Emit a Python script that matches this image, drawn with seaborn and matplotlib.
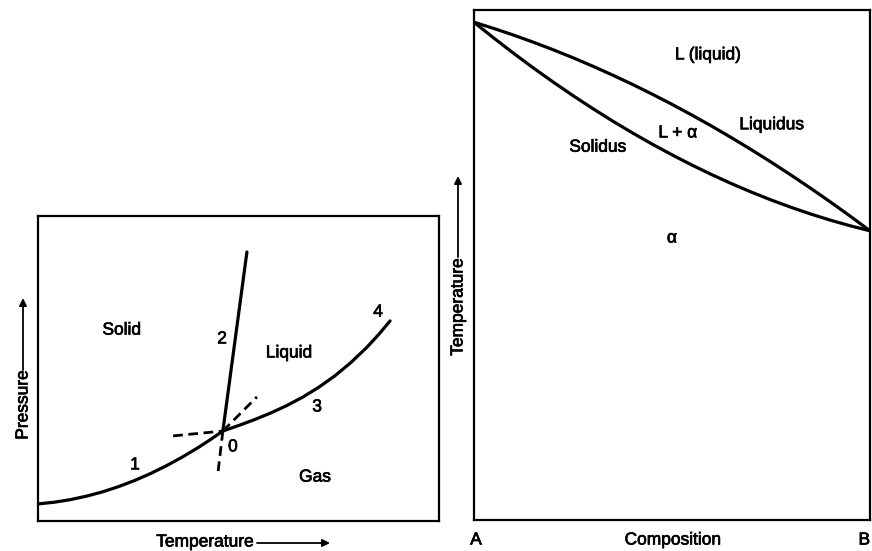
import matplotlib
matplotlib.use("Agg")
import matplotlib.pyplot as plt
import matplotlib.patheffects as pe
import seaborn as sns
import pandas as pd

# --- One-component system: pressure vs temperature (arbitrary units, 0-100) ---
sublimation_T = [0, 4, 8, 12, 16, 20, 24, 28, 32, 36, 40, 43, 46.1]
sublimation_P = [5.6, 6.15, 6.98, 8.11, 9.52, 11.23, 13.23, 15.52, 18.1, 20.97,
                 24.13, 26.69, 29.5]
vaporization_T = [46.1, 50, 54, 58, 62, 66, 70, 74, 78, 82, 85, 87.8]
vaporization_P = [29.5, 31.29, 33.24, 35.39, 37.82, 40.6, 43.83, 47.57, 51.92,
                  56.94, 61.2, 65.6]
melting_T = [46.1, 52.1]
melting_P = [29.5, 88.2]
# metastable continuations through the triple point "0"
supercooled_T = [33.7, 46.1]
supercooled_P = [27.9, 29.5]
superheated_T = [46.1, 54.6]
superheated_P = [29.5, 40.7]
melt_ext_T = [46.1, 44.9]
melt_ext_P = [29.5, 16.1]

# --- Binary isomorphous system A-B: temperature vs composition ---
composition = [0, 5, 10, 15, 20, 25, 30, 35, 40, 45, 50,
               55, 60, 65, 70, 75, 80, 85, 90, 95, 100]
liquidus = [97.6, 96.38, 95.08, 93.68, 92.2, 90.64, 88.98, 87.24, 85.42, 83.5, 81.5,
            79.41, 77.24, 74.97, 72.62, 70.19, 67.66, 65.05, 62.36, 59.58, 56.7]
solidus = [97.6, 94.5, 91.51, 88.63, 85.87, 83.21, 80.67, 78.23, 75.91, 73.7, 71.6,
           69.61, 67.73, 65.96, 64.31, 62.76, 61.33, 60.0, 58.79, 57.69, 56.7]

sns.set_theme(style="white")
plt.rcParams["font.family"] = ["Liberation Sans", "DejaVu Sans"]

W, H = 872, 551
fig = plt.figure(figsize=(W / 100, H / 100), dpi=100)


def box(x0, y0, x1, y1):
    """Axes rectangle given by pixel corners (top-left origin)."""
    return [x0 / W, 1 - y1 / H, (x1 - x0) / W, (y1 - y0) / H]


ax1 = fig.add_axes(box(38, 216, 439, 521))
ax2 = fig.add_axes(box(474, 10, 870, 520))

LW = 2.3
FS = 12.5
BOLDISH = [pe.withStroke(linewidth=0.5, foreground="black")]


def curve(ax, x, y, **kw):
    df = pd.DataFrame({"x": x, "y": y})
    sns.lineplot(data=df, x="x", y="y", ax=ax, color="black", sort=False,
                 estimator=None, **kw)


# phase boundaries
curve(ax1, sublimation_T, sublimation_P, linewidth=LW)
curve(ax1, vaporization_T, vaporization_P, linewidth=LW)
curve(ax1, melting_T, melting_P, linewidth=LW)
for tx, py in [(supercooled_T, supercooled_P), (superheated_T, superheated_P),
               (melt_ext_T, melt_ext_P)]:
    curve(ax1, tx, py, linewidth=2.0, linestyle=(0, (3.5, 2.0)))

for txt, x, y in [("Solid", 20.9, 62.6), ("2", 45.9, 59.7), ("Liquid", 62.6, 55.1),
                  ("4", 84.8, 68.5), ("3", 69.6, 37.4), ("0", 48.6, 24.3),
                  ("1", 24.2, 18.4), ("Gas", 69.1, 14.4)]:
    ax1.text(x, y, txt, ha="center", va="center", fontsize=FS, color="black",
             path_effects=BOLDISH)

curve(ax2, composition, liquidus, linewidth=LW)
curve(ax2, composition, solidus, linewidth=LW)
for txt, x, y in [("L (liquid)", 59.1, 91.2), ("Liquidus", 75.2, 77.5),
                  ("L + \u03b1", 51.5, 75.9), ("Solidus", 31.3, 73.1),
                  ("\u03b1", 50.0, 55.3)]:
    ax2.text(x, y, txt, ha="center", va="center", fontsize=FS, color="black",
             path_effects=BOLDISH)

for ax in (ax1, ax2):
    ax.set_xlim(0, 100)
    ax.set_ylim(0, 100)
    ax.set_xticks([])
    ax.set_yticks([])
    ax.set_xlabel("")
    ax.set_ylabel("")
    for s in ax.spines.values():
        s.set_visible(True)
        s.set_color("black")
        s.set_linewidth(1.6)


def ftext(x, y, s, **kw):
    kw.setdefault("ha", "center")
    fig.text(x / W, 1 - y / H, s, va="center", fontsize=FS, color="black",
             path_effects=BOLDISH, **kw)


def farrow(x0, y0, x1, y1):
    fig.add_artist(matplotlib.patches.FancyArrowPatch(
        (x0 / W, 1 - y0 / H), (x1 / W, 1 - y1 / H), transform=fig.transFigure,
        arrowstyle="-|>", mutation_scale=11, color="black", linewidth=1.3,
        shrinkA=0, shrinkB=0))


# axis captions with arrows
ftext(23, 405, "Pressure", rotation=90)
farrow(23, 370, 23, 298)
ftext(205, 542, "Temperature")
farrow(257, 543, 330, 543)
ftext(458, 307, "Temperature", rotation=90)
farrow(458, 257, 458, 176)
ftext(476, 540, "A")
ftext(673, 540, "Composition")
ftext(870, 540, "B", ha="right")

fig.savefig("out.png", dpi=100)
